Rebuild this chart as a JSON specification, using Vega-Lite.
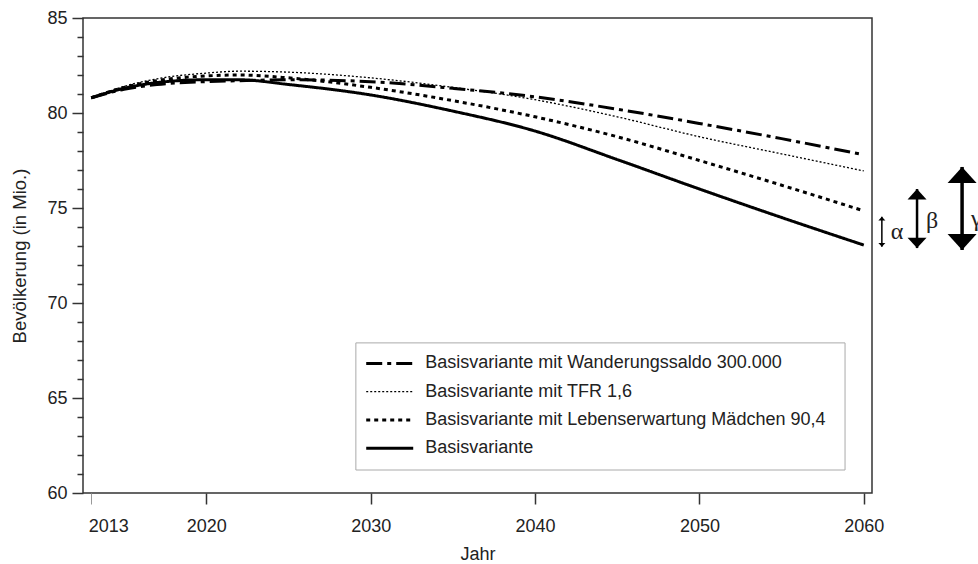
{
  "$schema": "https://vega.github.io/schema/vega-lite/v6.json",
  "width": 789,
  "height": 475,
  "autosize": {"type": "none"},
  "padding": {"left": 83, "top": 18, "right": 106, "bottom": 71},
  "background": "white",
  "config": {
    "view": {"stroke": "#333", "strokeWidth": 1.5},
    "font": "Liberation Sans"
  },
  "datasets": {
    "pop": [
      {"series": "Basisvariante mit Wanderungssaldo 300.000", "year": 2013, "value": 80.8},
      {"series": "Basisvariante mit Wanderungssaldo 300.000", "year": 2015, "value": 81.25},
      {"series": "Basisvariante mit Wanderungssaldo 300.000", "year": 2017, "value": 81.5},
      {"series": "Basisvariante mit Wanderungssaldo 300.000", "year": 2020, "value": 81.65},
      {"series": "Basisvariante mit Wanderungssaldo 300.000", "year": 2022, "value": 81.7},
      {"series": "Basisvariante mit Wanderungssaldo 300.000", "year": 2025, "value": 81.75},
      {"series": "Basisvariante mit Wanderungssaldo 300.000", "year": 2030, "value": 81.65},
      {"series": "Basisvariante mit Wanderungssaldo 300.000", "year": 2035, "value": 81.3},
      {"series": "Basisvariante mit Wanderungssaldo 300.000", "year": 2040, "value": 80.85},
      {"series": "Basisvariante mit Wanderungssaldo 300.000", "year": 2045, "value": 80.2},
      {"series": "Basisvariante mit Wanderungssaldo 300.000", "year": 2050, "value": 79.45},
      {"series": "Basisvariante mit Wanderungssaldo 300.000", "year": 2055, "value": 78.65},
      {"series": "Basisvariante mit Wanderungssaldo 300.000", "year": 2060, "value": 77.8},
      {"series": "Basisvariante mit TFR 1,6", "year": 2013, "value": 80.8},
      {"series": "Basisvariante mit TFR 1,6", "year": 2015, "value": 81.4},
      {"series": "Basisvariante mit TFR 1,6", "year": 2017, "value": 81.8},
      {"series": "Basisvariante mit TFR 1,6", "year": 2020, "value": 82.1},
      {"series": "Basisvariante mit TFR 1,6", "year": 2022, "value": 82.2},
      {"series": "Basisvariante mit TFR 1,6", "year": 2025, "value": 82.15},
      {"series": "Basisvariante mit TFR 1,6", "year": 2030, "value": 81.85},
      {"series": "Basisvariante mit TFR 1,6", "year": 2035, "value": 81.35},
      {"series": "Basisvariante mit TFR 1,6", "year": 2040, "value": 80.7},
      {"series": "Basisvariante mit TFR 1,6", "year": 2045, "value": 79.8},
      {"series": "Basisvariante mit TFR 1,6", "year": 2050, "value": 78.75},
      {"series": "Basisvariante mit TFR 1,6", "year": 2055, "value": 77.85},
      {"series": "Basisvariante mit TFR 1,6", "year": 2060, "value": 76.95},
      {"series": "Basisvariante mit Lebenserwartung Mädchen 90,4", "year": 2013, "value": 80.8},
      {"series": "Basisvariante mit Lebenserwartung Mädchen 90,4", "year": 2015, "value": 81.35},
      {"series": "Basisvariante mit Lebenserwartung Mädchen 90,4", "year": 2017, "value": 81.7},
      {"series": "Basisvariante mit Lebenserwartung Mädchen 90,4", "year": 2020, "value": 81.95},
      {"series": "Basisvariante mit Lebenserwartung Mädchen 90,4", "year": 2022, "value": 82.0},
      {"series": "Basisvariante mit Lebenserwartung Mädchen 90,4", "year": 2025, "value": 81.85},
      {"series": "Basisvariante mit Lebenserwartung Mädchen 90,4", "year": 2030, "value": 81.35},
      {"series": "Basisvariante mit Lebenserwartung Mädchen 90,4", "year": 2035, "value": 80.65},
      {"series": "Basisvariante mit Lebenserwartung Mädchen 90,4", "year": 2040, "value": 79.8},
      {"series": "Basisvariante mit Lebenserwartung Mädchen 90,4", "year": 2045, "value": 78.75},
      {"series": "Basisvariante mit Lebenserwartung Mädchen 90,4", "year": 2050, "value": 77.5},
      {"series": "Basisvariante mit Lebenserwartung Mädchen 90,4", "year": 2055, "value": 76.2},
      {"series": "Basisvariante mit Lebenserwartung Mädchen 90,4", "year": 2060, "value": 74.85},
      {"series": "Basisvariante", "year": 2013, "value": 80.8},
      {"series": "Basisvariante", "year": 2015, "value": 81.3},
      {"series": "Basisvariante", "year": 2017, "value": 81.6},
      {"series": "Basisvariante", "year": 2020, "value": 81.75},
      {"series": "Basisvariante", "year": 2022, "value": 81.75},
      {"series": "Basisvariante", "year": 2025, "value": 81.5},
      {"series": "Basisvariante", "year": 2030, "value": 80.95},
      {"series": "Basisvariante", "year": 2035, "value": 80.1},
      {"series": "Basisvariante", "year": 2040, "value": 79.05},
      {"series": "Basisvariante", "year": 2045, "value": 77.55},
      {"series": "Basisvariante", "year": 2050, "value": 76.0},
      {"series": "Basisvariante", "year": 2055, "value": 74.5},
      {"series": "Basisvariante", "year": 2060, "value": 73.05}
    ],
    "legend": [
      {"series": "Basisvariante mit Wanderungssaldo 300.000"},
      {"series": "Basisvariante mit TFR 1,6"},
      {"series": "Basisvariante mit Lebenserwartung Mädchen 90,4"},
      {"series": "Basisvariante"}
    ],
    "arrows": [
      {"label": "α", "x": 2061.1, "lo": 72.96, "hi": 74.54, "ly": 73.74},
      {"label": "β", "x": 2063.24, "lo": 72.89, "hi": 76.0, "ly": 74.3},
      {"label": "γ", "x": 2065.98, "lo": 72.79, "hi": 77.16, "ly": 74.41}
    ]
  },
  "layer": [
    {
      "layer": [
        {
          "data": {"name": "pop"},
          "mark": {"type": "line", "interpolate": "monotone", "color": "black", "strokeCap": "butt"},
          "encoding": {
            "x": {
              "field": "year", "type": "quantitative",
              "scale": {"domain": [2012.5, 2060.5], "nice": false, "zero": false},
              "axis": {
                "values": [2013, 2020, 2030, 2040, 2050, 2060],
                "tickCount": 20,
                "format": "d",
                "title": "Jahr",
                "domain": false,
                "grid": false,
                "labelOverlap": false,
                "tickSize": 11,
                "tickWidth": {"condition": {"test": "datum.value === 2013", "value": 1}, "value": 1.5},
                "tickColor": {"condition": {"test": "datum.value === 2013", "value": "#999"}, "value": "#333"},
                "labelAlign": {"condition": {"test": "datum.value === 2013", "value": "left"}, "value": "center"},
                "labelOffset": {"condition": {"test": "datum.value === 2013", "value": -3}, "value": 0},
                "labelPadding": 13,
                "labelFontSize": 18,
                "labelColor": "#222",
                "titleFontSize": 18,
                "titleFontWeight": "normal",
                "titleColor": "#222",
                "titlePadding": 10
              }
            },
            "y": {
              "field": "value", "type": "quantitative",
              "scale": {"domain": [60, 85], "nice": false, "zero": false},
              "axis": {
                "values": [60, 61, 62, 63, 64, 65, 66, 67, 68, 69, 70, 71, 72, 73, 74, 75, 76, 77, 78, 79, 80, 81, 82, 83, 84, 85],
                "tickCount": 40,
                "format": "d",
                "labelExpr": "datum.value % 5 === 0 ? datum.label : ''",
                "labelOverlap": false,
                "tickSize": {"condition": {"test": "datum.value % 5 === 0", "value": 11}, "value": 6},
                "tickWidth": 1.5,
                "tickColor": "#333",
                "domain": false,
                "grid": false,
                "labelPadding": 5,
                "labelFontSize": 18,
                "labelColor": "#222",
                "title": "Bevölkerung (in Mio.)",
                "titleFontSize": 18.5,
                "titleFontWeight": "normal",
                "titleColor": "#222",
                "titlePadding": 17
              }
            },
            "strokeDash": {
              "field": "series", "type": "nominal",
              "scale": {
                "domain": ["Basisvariante mit Wanderungssaldo 300.000", "Basisvariante mit TFR 1,6", "Basisvariante mit Lebenserwartung Mädchen 90,4", "Basisvariante"],
                "range": [[16, 5, 4, 5], [2, 2], [4, 4], [1, 0]]
              },
              "legend": null
            },
            "strokeWidth": {"condition": {"test": "datum.series === 'Basisvariante mit TFR 1,6'", "value": 1.3}, "value": 3}
          }
        },
        {
          "data": {"values": [{}]},
          "mark": {"type": "rect", "fill": "white", "stroke": "#aaa", "strokeWidth": 1},
          "encoding": {
            "x": {"datum": 2029.1},
            "x2": {"datum": 2058.86},
            "y": {"datum": 67.9},
            "y2": {"datum": 61.21}
          }
        },
        {
          "data": {"name": "arrows"},
          "mark": {"type": "rule", "color": "black"},
          "encoding": {
            "x": {"field": "x", "type": "quantitative"},
            "y": {"field": "lo", "type": "quantitative"},
            "y2": {"field": "hi"},
            "strokeWidth": {"condition": [{"test": "datum.label === 'α'", "value": 1.5}, {"test": "datum.label === 'β'", "value": 2.5}], "value": 3.5}
          }
        },
        {
          "data": {"name": "arrows"},
          "mark": {"type": "point", "filled": true, "color": "black", "opacity": 1, "strokeWidth": 0, "shape": "M0,0L1,1.1L-1,1.1Z"},
          "encoding": {
            "x": {"field": "x", "type": "quantitative"},
            "y": {"field": "hi", "type": "quantitative"},
            "size": {"condition": [{"test": "datum.label === 'α'", "value": 49}, {"test": "datum.label === 'β'", "value": 361}], "value": 841}
          }
        },
        {
          "data": {"name": "arrows"},
          "mark": {"type": "point", "filled": true, "color": "black", "opacity": 1, "strokeWidth": 0, "shape": "M0,0L1,-1.1L-1,-1.1Z"},
          "encoding": {
            "x": {"field": "x", "type": "quantitative"},
            "y": {"field": "lo", "type": "quantitative"},
            "size": {"condition": [{"test": "datum.label === 'α'", "value": 49}, {"test": "datum.label === 'β'", "value": 361}], "value": 841}
          }
        },
        {
          "data": {"name": "arrows"},
          "mark": {"type": "text", "align": "left", "baseline": "middle", "dx": 9, "font": "Liberation Serif", "fontSize": 24, "color": "#222"},
          "encoding": {
            "x": {"field": "x", "type": "quantitative"},
            "y": {"field": "ly", "type": "quantitative"},
            "text": {"field": "label"}
          }
        }
      ]
    },
    {
      "data": {"name": "legend"},
      "layer": [
        {
          "mark": {"type": "rule", "color": "black", "strokeCap": "butt"},
          "encoding": {
            "x": {"datum": 2029.73},
            "x2": {"datum": 2032.59},
            "y": {
              "field": "series", "type": "nominal",
              "scale": {"type": "point", "domain": ["Basisvariante mit Wanderungssaldo 300.000", "Basisvariante mit TFR 1,6", "Basisvariante mit Lebenserwartung Mädchen 90,4", "Basisvariante"], "range": [345.4, 430.3], "padding": 0},
              "axis": null
            },
            "strokeDash": {
              "field": "series", "type": "nominal",
              "scale": {
                "domain": ["Basisvariante mit Wanderungssaldo 300.000", "Basisvariante mit TFR 1,6", "Basisvariante mit Lebenserwartung Mädchen 90,4", "Basisvariante"],
                "range": [[16, 5, 4, 5], [2, 2], [4, 4], [1, 0]]
              },
              "legend": null
            },
            "strokeWidth": {"condition": {"test": "datum.series === 'Basisvariante mit TFR 1,6'", "value": 1.3}, "value": 3}
          }
        },
        {
          "mark": {"type": "text", "align": "left", "baseline": "middle", "fontSize": 18, "color": "#222"},
          "encoding": {
            "x": {"datum": 2033.32},
            "y": {
              "field": "series", "type": "nominal",
              "scale": {"type": "point", "domain": ["Basisvariante mit Wanderungssaldo 300.000", "Basisvariante mit TFR 1,6", "Basisvariante mit Lebenserwartung Mädchen 90,4", "Basisvariante"], "range": [345.4, 430.3], "padding": 0},
              "axis": null
            },
            "text": {"field": "series"}
          }
        }
      ]
    }
  ],
  "resolve": {"scale": {"y": "independent"}}
}
